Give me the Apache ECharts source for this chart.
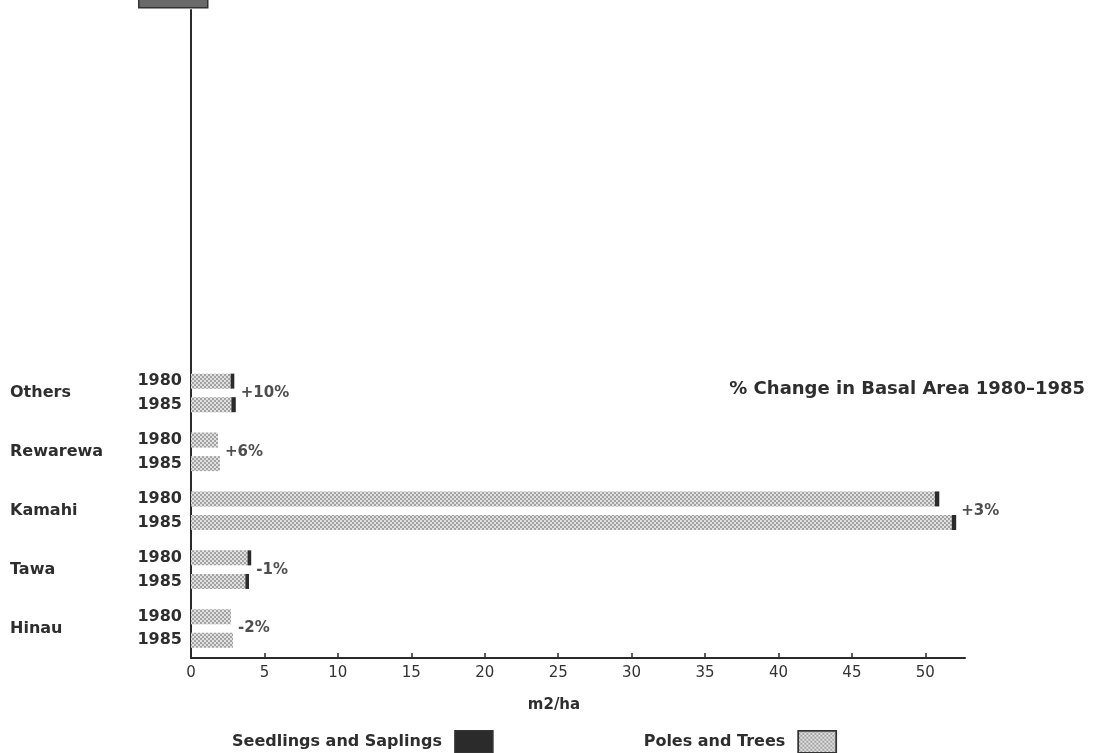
<!DOCTYPE html>
<html>
<head>
<meta charset="utf-8">
<script src="https://cdn.jsdelivr.net/npm/echarts@6/dist/echarts.min.js"></script>
<style>
html,body{margin:0;padding:0;background:#fff;}
#chart{width:1094px;height:753px;}
</style>
</head>
<body>
<div id="chart"></div>
<script>
// ---- data (bottom to top) ----
const species = ['Hinau', 'Tawa', 'Kamahi', 'Rewarewa', 'Others'];
const years = ['1980', '1985'];
const poles1980 = [2.72, 3.85, 50.65, 1.84, 2.7];
const seedlings1980 = [0, 0.25, 0.3, 0, 0.25];
const poles1985 = [2.86, 3.7, 51.8, 1.97, 2.75];
const seedlings1985 = [0, 0.25, 0.3, 0, 0.3];
const pctChange = ['-2%', '-1%', '+3%', '+6%', '+10%'];
const xTickValues = [0, 5, 10, 15, 20, 25, 30, 35, 40, 45, 50];
const xAxisName = 'm2/ha';
const chartNote = '% Change in Basal Area 1980\u20131985';
const seriesNames = ['Seedlings and Saplings', 'Poles and Trees'];

// ---- category slots: each species has a 1985 row, a label row, a 1980 row ----
const SLOTS = 55;
const yearCats = new Array(SLOTS).fill('');
const speciesCats = new Array(SLOTS).fill('');
const polesSlots = new Array(SLOTS).fill('-');
const seedSlots = new Array(SLOTS).fill('-');
const pctPoints = [];
species.forEach(function (name, g) {
  const i85 = 5 * g + 1, iMid = 5 * g + 2, i80 = 5 * g + 3;
  yearCats[i85] = years[1];
  yearCats[i80] = years[0];
  speciesCats[iMid] = name;
  polesSlots[i85] = poles1985[g];
  seedSlots[i85] = seedlings1985[g] || '-';
  polesSlots[i80] = poles1980[g];
  seedSlots[i80] = seedlings1980[g] || '-';
  const t80 = poles1980[g] + seedlings1980[g];
  const t85 = poles1985[g] + seedlings1985[g];
  pctPoints.push({ value: [Math.max(t80, t85), iMid], label: { formatter: pctChange[g] } });
});

const FONT = "'DejaVu Sans', sans-serif";
const TXT = '#2e2e2e';

const chart = echarts.init(document.getElementById('chart'), null, { renderer: 'canvas' });
chart.setOption({
  animation: false,
  backgroundColor: '#fff',
  grid: { left: 191, right: 129, top: 10, bottom: 95, containLabel: false, outerBoundsMode: 'none' },
  title: {
    text: chartNote, right: 9, top: 380, padding: 0,
    textStyle: { fontFamily: FONT, fontSize: 18, fontWeight: 'bold', color: TXT }
  },
  legend: {
    data: seriesNames,
    left: 227, top: 725,
    align: 'right',
    icon: 'rect',
    itemWidth: 38, itemHeight: 22,
    itemGap: 150,
    textStyle: { fontFamily: FONT, fontSize: 16, fontWeight: 'bold', color: TXT, padding: [0, 8, 0, 0] },
    itemStyle: { borderColor: '#333', borderWidth: 1.5 }
  },
  xAxis: {
    type: 'value', min: 0, max: 52.7,
    name: xAxisName, nameLocation: 'middle', nameGap: 40,
    nameTextStyle: { fontFamily: FONT, fontSize: 15, fontWeight: 'bold', color: TXT, padding: [0, 48, 0, 0] },
    axisLine: { show: true, lineStyle: { color: '#2a2a2a', width: 2 } },
    axisTick: { show: true, inside: true, length: 5, customValues: xTickValues, lineStyle: { color: '#2a2a2a', width: 1.5 } },
    axisLabel: { customValues: xTickValues, margin: 8, fontFamily: FONT, fontSize: 15, color: '#333' },
    splitLine: { show: false }
  },
  yAxis: [
    {
      type: 'category', data: yearCats, position: 'left',
      axisLine: { show: true, onZero: false, lineStyle: { color: '#2a2a2a', width: 2 } },
      axisTick: { show: false },
      axisLabel: { interval: 0, margin: 9, fontFamily: FONT, fontSize: 16, fontWeight: 'bold', color: TXT },
      splitLine: { show: false }
    },
    {
      type: 'category', data: speciesCats, position: 'left',
      axisLine: { show: false }, axisTick: { show: false },
      axisLabel: { interval: 0, margin: 181, align: 'left', fontFamily: FONT, fontSize: 16, fontWeight: 'bold', color: TXT },
      splitLine: { show: false }
    }
  ],
  graphic: [
    { type: 'rect', left: 138, top: -12, shape: { width: 69, height: 19 },
      style: { fill: '#6a6a6a', stroke: '#333', lineWidth: 1.5 }, silent: true }
  ],
  series: [
    {
      name: seriesNames[1], type: 'bar', stack: 'basal', yAxisIndex: 0,
      barWidth: 15, data: polesSlots,
      itemStyle: {
        color: '#e0e0e0',
        decal: { symbol: 'rect', symbolSize: 1, color: 'rgba(130,130,130,0.65)',
                 dashArrayX: [[2, 2], [0, 2, 2, 0]], dashArrayY: [2, 0] }
      }
    },
    {
      name: seriesNames[0], type: 'bar', stack: 'basal', yAxisIndex: 0,
      barWidth: 15, data: seedSlots,
      itemStyle: { color: '#2b2b2b' }
    },
    {
      name: 'pct', type: 'scatter', yAxisIndex: 0, symbolSize: 0, silent: true,
      data: pctPoints,
      label: { show: true, position: 'right', distance: 5, fontFamily: FONT, fontSize: 15, fontWeight: 'bold', color: '#222' }
    }
  ]
});
</script>
</body>
</html>
